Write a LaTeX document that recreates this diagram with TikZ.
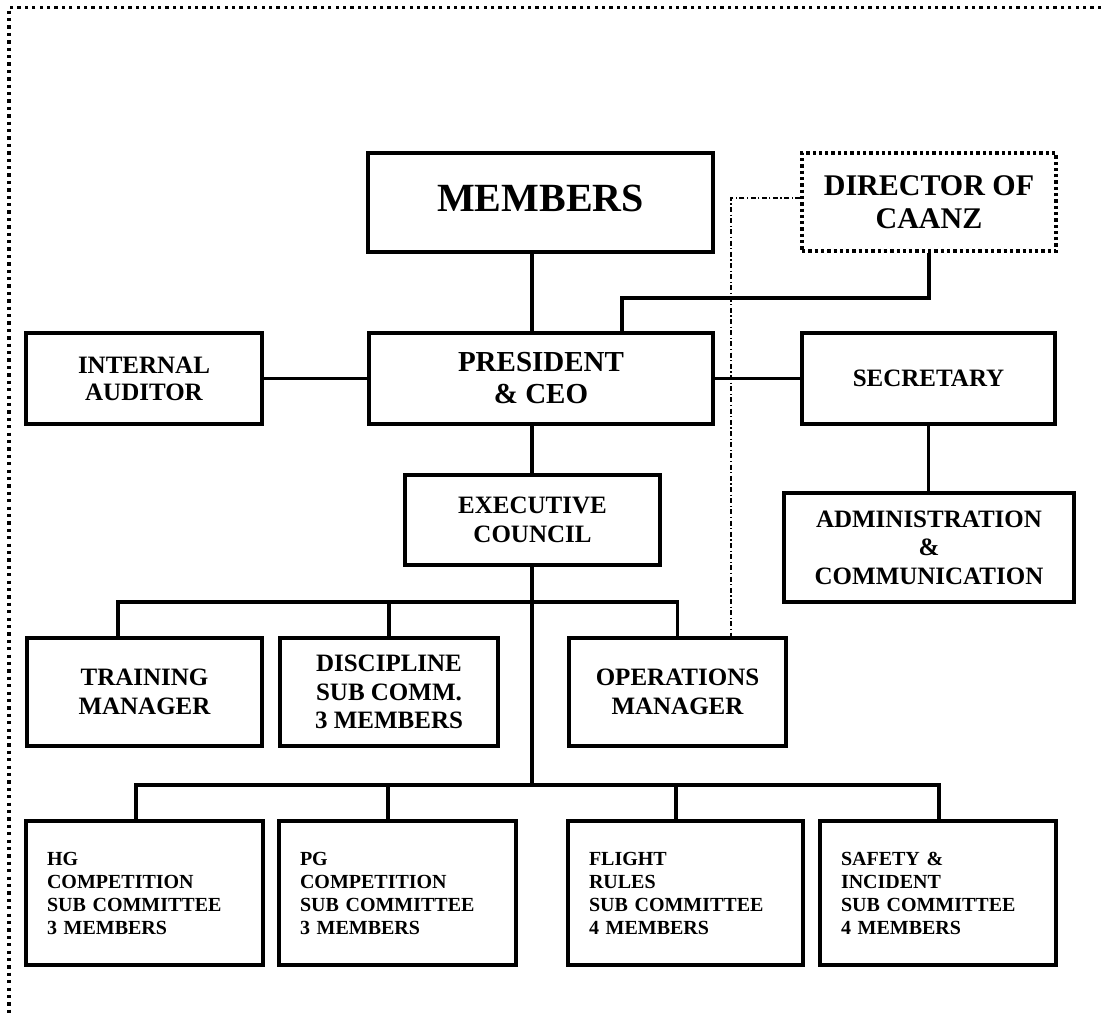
\documentclass[tikz,border=0pt]{standalone}
\usepackage{fontspec}
\setmainfont{Liberation Serif}
\begin{document}
\begin{tikzpicture}[x=1pt,y=-1pt,
  box/.style={draw, line width=3.3pt, inner sep=0pt, align=center},
  dotbox/.style={draw, line width=3.3pt, inner sep=0pt, align=center, dash pattern=on 3.3pt off 3pt},
  conn/.style={line width=3.3pt},
  dashdot/.style={line width=1.4pt, dash pattern=on 5pt off 2.5pt on 1.2pt off 2.5pt},
  frame/.style={line width=3.3pt, dash pattern=on 3.3pt off 4.1pt},
  fbig/.style={font=\bfseries\fontsize{40}{44}\selectfont},
  fdir/.style={font=\bfseries\fontsize{30}{33}\selectfont},
  fpres/.style={font=\bfseries\fontsize{29}{32}\selectfont},
  fia/.style={font=\bfseries\fontsize{25}{27}\selectfont},
  fmid/.style={font=\bfseries\fontsize{25}{28.5}\selectfont},
  subbox/.style={draw, line width=3.3pt, inner xsep=21pt, inner ysep=0pt, align=left,
    minimum height=144pt, font=\bfseries\fontsize{20}{23}\selectfont}]
\useasboundingbox (0,0) rectangle (1101,1017);
% outer dotted frame
\coordinate (fr1) at (1101,7.5);
\coordinate (fr2) at (9,7.5);
\coordinate (fr3) at (9,1017);
\draw[frame] (fr1) -- (fr2) -- (fr3);

% top level
\node[box, minimum width=345pt, minimum height=99pt] (members) at (540.5,202.5) {};
\node[fbig, inner sep=0pt] (memberstext) at (540.5,198) {MEMBERS};
\node[dotbox, fdir, minimum width=254pt, minimum height=98pt] (director) at (929,202) {DIRECTOR OF\\CAANZ};
\node[box, fpres, minimum width=344pt, minimum height=91pt] (president) at (541,378.5) {PRESIDENT\\\& CEO};
\node[box, fia, minimum width=236pt, minimum height=91pt] (ia) at (144,378.5) {INTERNAL\\AUDITOR};
\node[box, fmid, minimum width=253pt, minimum height=91pt] (secretary) at (928.5,378.5) {SECRETARY};
\node[box, fmid, minimum width=290pt, minimum height=109pt] (admin) at (929,547.5) {ADMINISTRATION\\\&\\COMMUNICATION};
\node[box, fmid, minimum width=255pt, minimum height=90pt] (exec) at (532.5,520) {EXECUTIVE\\COUNCIL};

% middle row
\node[box, fmid, minimum width=235pt, minimum height=108pt] (training) at (144.5,692) {TRAINING\\MANAGER};
\node[box, fmid, minimum width=218pt, minimum height=108pt] (discipline) at (389,692) {DISCIPLINE\\SUB COMM.\\3 MEMBERS};
\node[box, fmid, minimum width=217pt, minimum height=108pt] (operations) at (677.5,692) {OPERATIONS\\MANAGER};

% bottom row
\node[subbox, text width=195pt] (hg) at (144.5,893) {HG\\COMPETITION\\SUB COMMITTEE\\3 MEMBERS};
\node[subbox, text width=195pt] (pg) at (397.5,893) {PG\\COMPETITION\\SUB COMMITTEE\\3 MEMBERS};
\node[subbox, text width=193pt] (flight) at (685.5,893) {FLIGHT\\RULES\\SUB COMMITTEE\\4 MEMBERS};
\node[subbox, text width=194pt] (safety) at (938,893) {SAFETY \&\\INCIDENT\\SUB COMMITTEE\\4 MEMBERS};

% helper coordinates
\coordinate (spine) at (532,0);
\coordinate (dbend) at (622,298);
\coordinate (dd) at (731,198);
\coordinate (bus1L) at (118,602);
\coordinate (bus1R) at (677.5,602);
\coordinate (bus2L) at (136,785);
\coordinate (bus2R) at (939,785);
\coordinate (pgdrop) at (388,785);
\coordinate (fldrop) at (676,785);

% connectors
\draw[conn] (members.south -| spine) -- (president.north -| spine);
\draw[conn] (director.south) |- (dbend) -- (president.north -| dbend);
\draw[conn] (ia.east) -- (president.west);
\draw[conn] (president.east) -- (secretary.west);
\draw[conn] (secretary.south) -- (secretary.south |- admin.north);
\draw[conn] (president.south -| spine) -- (exec.north -| spine);
\draw[conn] (exec.south -| spine) -- (spine |- bus2L);
\draw[conn] (training.north -| bus1L) -- (bus1L) -- (bus1R) -- (operations.north);
\draw[conn] (discipline.north) -- (discipline.north |- bus1L);
\draw[conn] (hg.north -| bus2L) -- (bus2L) -- (bus2R) -- (safety.north -| bus2R);
\draw[conn] (pgdrop) -- (pg.north -| pgdrop);
\draw[conn] (fldrop) -- (flight.north -| fldrop);
\draw[dashdot] (director.west |- dd) -- (dd) -- (operations.north -| dd);
\end{tikzpicture}
\end{document}
